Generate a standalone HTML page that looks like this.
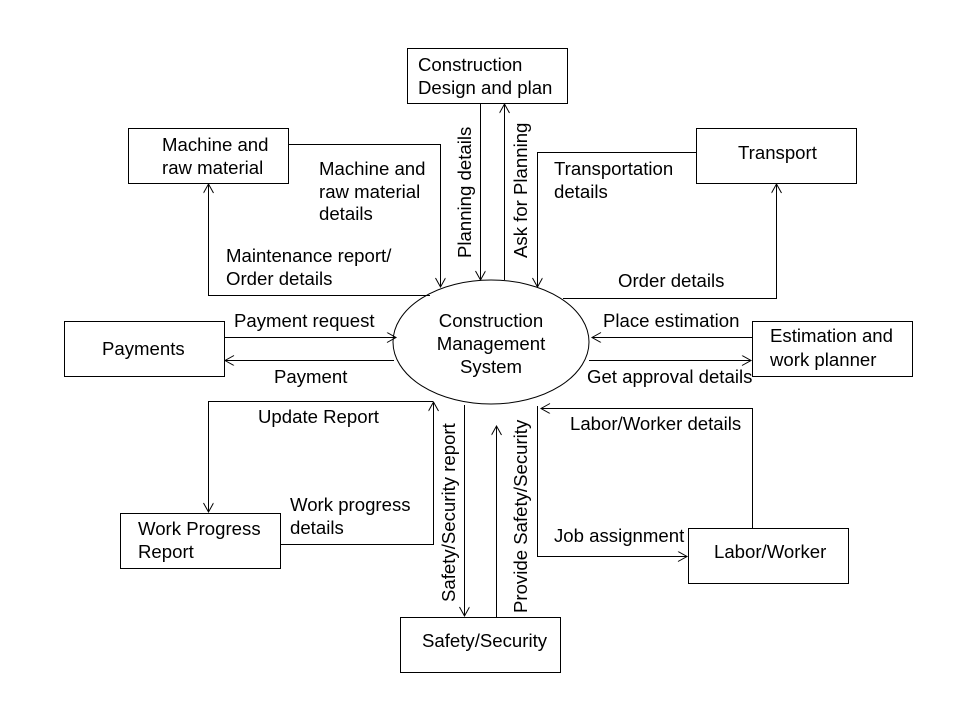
<!DOCTYPE html>
<html><head><meta charset="utf-8"><style>
html,body{margin:0;padding:0;background:#fff;}
svg{display:block;}
text{font-family:"Liberation Sans",Arial,sans-serif;font-size:18.6px;fill:#000;}
</style></head><body>
<svg width="960" height="720" viewBox="0 0 960 720" xmlns="http://www.w3.org/2000/svg">
<defs>
<marker id="a" markerWidth="12" markerHeight="12" refX="10" refY="5" orient="auto" markerUnits="userSpaceOnUse">
<path d="M1,0 L10,5 L1,10" fill="none" stroke="#000" stroke-width="1"/>
</marker>
</defs>
<g fill="#fff" stroke="#000" stroke-width="1">
<rect x="407.5" y="48.5" width="160" height="55"/>
<rect x="128.5" y="128.5" width="160" height="55"/>
<rect x="696.5" y="128.5" width="160" height="55"/>
<rect x="64.5" y="321.5" width="160" height="55"/>
<rect x="752.5" y="321.5" width="160" height="55"/>
<rect x="120.5" y="513.5" width="160" height="55"/>
<rect x="688.5" y="528.5" width="160" height="55"/>
<rect x="400.5" y="617.5" width="160" height="55"/>
<ellipse cx="491" cy="342" rx="98" ry="62"/>
</g>
<g fill="none" stroke="#000" stroke-width="1">
<path d="M480.5,103 V280" marker-end="url(#a)"/>
<path d="M504.5,280 V104" marker-end="url(#a)"/>
<path d="M288,144.5 H440.5 V287" marker-end="url(#a)"/>
<path d="M430,295.5 H208.5 V184" marker-end="url(#a)"/>
<path d="M696,152.5 H537.5 V287" marker-end="url(#a)"/>
<path d="M563,298.5 H776.5 V184" marker-end="url(#a)"/>
<path d="M224,337.5 H396" marker-end="url(#a)"/>
<path d="M394,360.5 H225" marker-end="url(#a)"/>
<path d="M752,337.5 H592" marker-end="url(#a)"/>
<path d="M589,360.5 H751" marker-end="url(#a)"/>
<path d="M433,401.5 H208.5 V512" marker-end="url(#a)"/>
<path d="M280,544.5 H433.5 V402" marker-end="url(#a)"/>
<path d="M464.5,405 V616" marker-end="url(#a)"/>
<path d="M496.5,617 V426" marker-end="url(#a)"/>
<path d="M752.5,528 V408.5 H541" marker-end="url(#a)"/>
<path d="M537.5,406 V556.5 H687" marker-end="url(#a)"/>
</g>
<text x="418" y="71">Construction</text>
<text x="418" y="94">Design and plan</text>
<text x="162" y="151">Machine and</text>
<text x="162" y="174">raw material</text>
<text x="738" y="159">Transport</text>
<text x="102" y="355">Payments</text>
<text x="770" y="342">Estimation and</text>
<text x="770" y="366">work planner</text>
<text x="138" y="535">Work Progress</text>
<text x="138" y="558">Report</text>
<text x="714" y="558">Labor/Worker</text>
<text x="422" y="647">Safety/Security</text>
<text x="491" y="327" text-anchor="middle">Construction</text>
<text x="491" y="350" text-anchor="middle">Management</text>
<text x="491" y="373" text-anchor="middle">System</text>
<text x="319" y="175">Machine and</text>
<text x="319" y="198">raw material</text>
<text x="319" y="220">details</text>
<text x="226" y="262">Maintenance report/</text>
<text x="226" y="285">Order details</text>
<text x="554" y="175">Transportation</text>
<text x="554" y="198">details</text>
<text x="618" y="287">Order details</text>
<text x="234" y="327">Payment request</text>
<text x="274" y="383">Payment</text>
<text x="603" y="327">Place estimation</text>
<text x="587" y="383">Get approval details</text>
<text x="258" y="423">Update Report</text>
<text x="290" y="511">Work progress</text>
<text x="290" y="534">details</text>
<text x="570" y="430">Labor/Worker details</text>
<text x="554" y="542">Job assignment</text>
<text transform="translate(471,258) rotate(-90)">Planning details</text>
<text transform="translate(527,258) rotate(-90)">Ask for Planning</text>
<text transform="translate(455,602) rotate(-90)">Safety/Security report</text>
<text transform="translate(527,613) rotate(-90)">Provide Safety/Security</text>
</svg>
</body></html>
